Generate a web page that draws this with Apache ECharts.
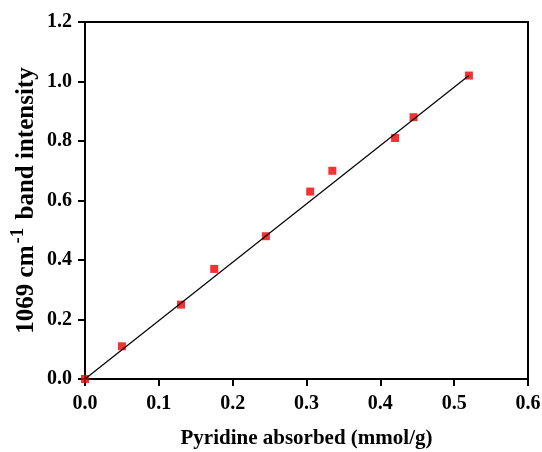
<!DOCTYPE html>
<html>
<head>
<meta charset="utf-8">
<script src="https://cdn.jsdelivr.net/npm/echarts@6/dist/echarts.min.js"></script>
<style>
  html, body { margin: 0; padding: 0; background: #fff; }
  #chart { width: 542px; height: 452px; }
</style>
</head>
<body>
<div id="chart"></div>
<script>
// measured points
const pyridine = [0, 0.05, 0.13, 0.175, 0.245, 0.305, 0.335, 0.42, 0.445, 0.52]
const intensity = [0, 0.11, 0.25, 0.37, 0.48, 0.63, 0.70, 0.81, 0.88, 1.02]
// linear fit drawn through the data
const fitX = [0, 0.52]
const fitY = [0, 1.02]

const font = 'Liberation Serif'
const chart = echarts.init(document.getElementById('chart'))

const axisCommon = {
  axisLine: { show: true, onZero: false, lineStyle: { color: '#000', width: 2 } },
  axisTick: { show: true, inside: false, length: 7, lineStyle: { color: '#000', width: 2 } },
  axisLabel: { color: '#000', fontFamily: font, fontWeight: 'bold', fontSize: 20 },
  splitLine: { show: false }
}

chart.setOption({
  animation: false,
  backgroundColor: '#fff',
  grid: {
    left: 85, right: 14, top: 22, bottom: 73,
    outerBoundsMode: 'none',
    show: true, borderColor: '#000', borderWidth: 2
  },
  xAxis: {
    type: 'value', min: 0, max: 0.6, interval: 0.1,
    name: 'Pyridine absorbed (mmol/g)',
    nameLocation: 'middle', nameGap: 49,
    nameTextStyle: { color: '#000', fontFamily: font, fontWeight: 'bold', fontSize: 21 },
    ...axisCommon,
    axisLabel: { ...axisCommon.axisLabel, margin: 15, formatter: v => v.toFixed(1) }
  },
  yAxis: {
    type: 'value', min: 0, max: 1.2, interval: 0.2,
    name: '{a|1069 cm}{sup|-1}{a| band intensity}',
    nameLocation: 'middle', nameGap: 46, nameRotate: 90,
    nameMoveOverlap: false,
    nameTextStyle: {
      color: '#000', fontFamily: font, fontWeight: 'bold', fontSize: 25,
      rich: {
        a: { fontFamily: font, fontWeight: 'bold', fontSize: 25, color: '#000', verticalAlign: 'bottom' },
        sup: { fontFamily: font, fontWeight: 'bold', fontSize: 19, color: '#000', verticalAlign: 'top', padding: [0, 2, 11, 2] }
      }
    },
    ...axisCommon,
    axisLabel: { ...axisCommon.axisLabel, margin: 13, formatter: v => v.toFixed(1) }
  },
  series: [
    {
      type: 'scatter',
      data: pyridine.map((x, i) => [x, intensity[i]]),
      symbol: 'rect',
      symbolSize: 8,
      itemStyle: { color: '#f00000' },
      z: 2
    },
    {
      type: 'line',
      data: fitX.map((x, i) => [x, fitY[i]]),
      showSymbol: false,
      lineStyle: { color: '#000', width: 1.2 },
      z: 3
    }
  ]
})
</script>
</body>
</html>
